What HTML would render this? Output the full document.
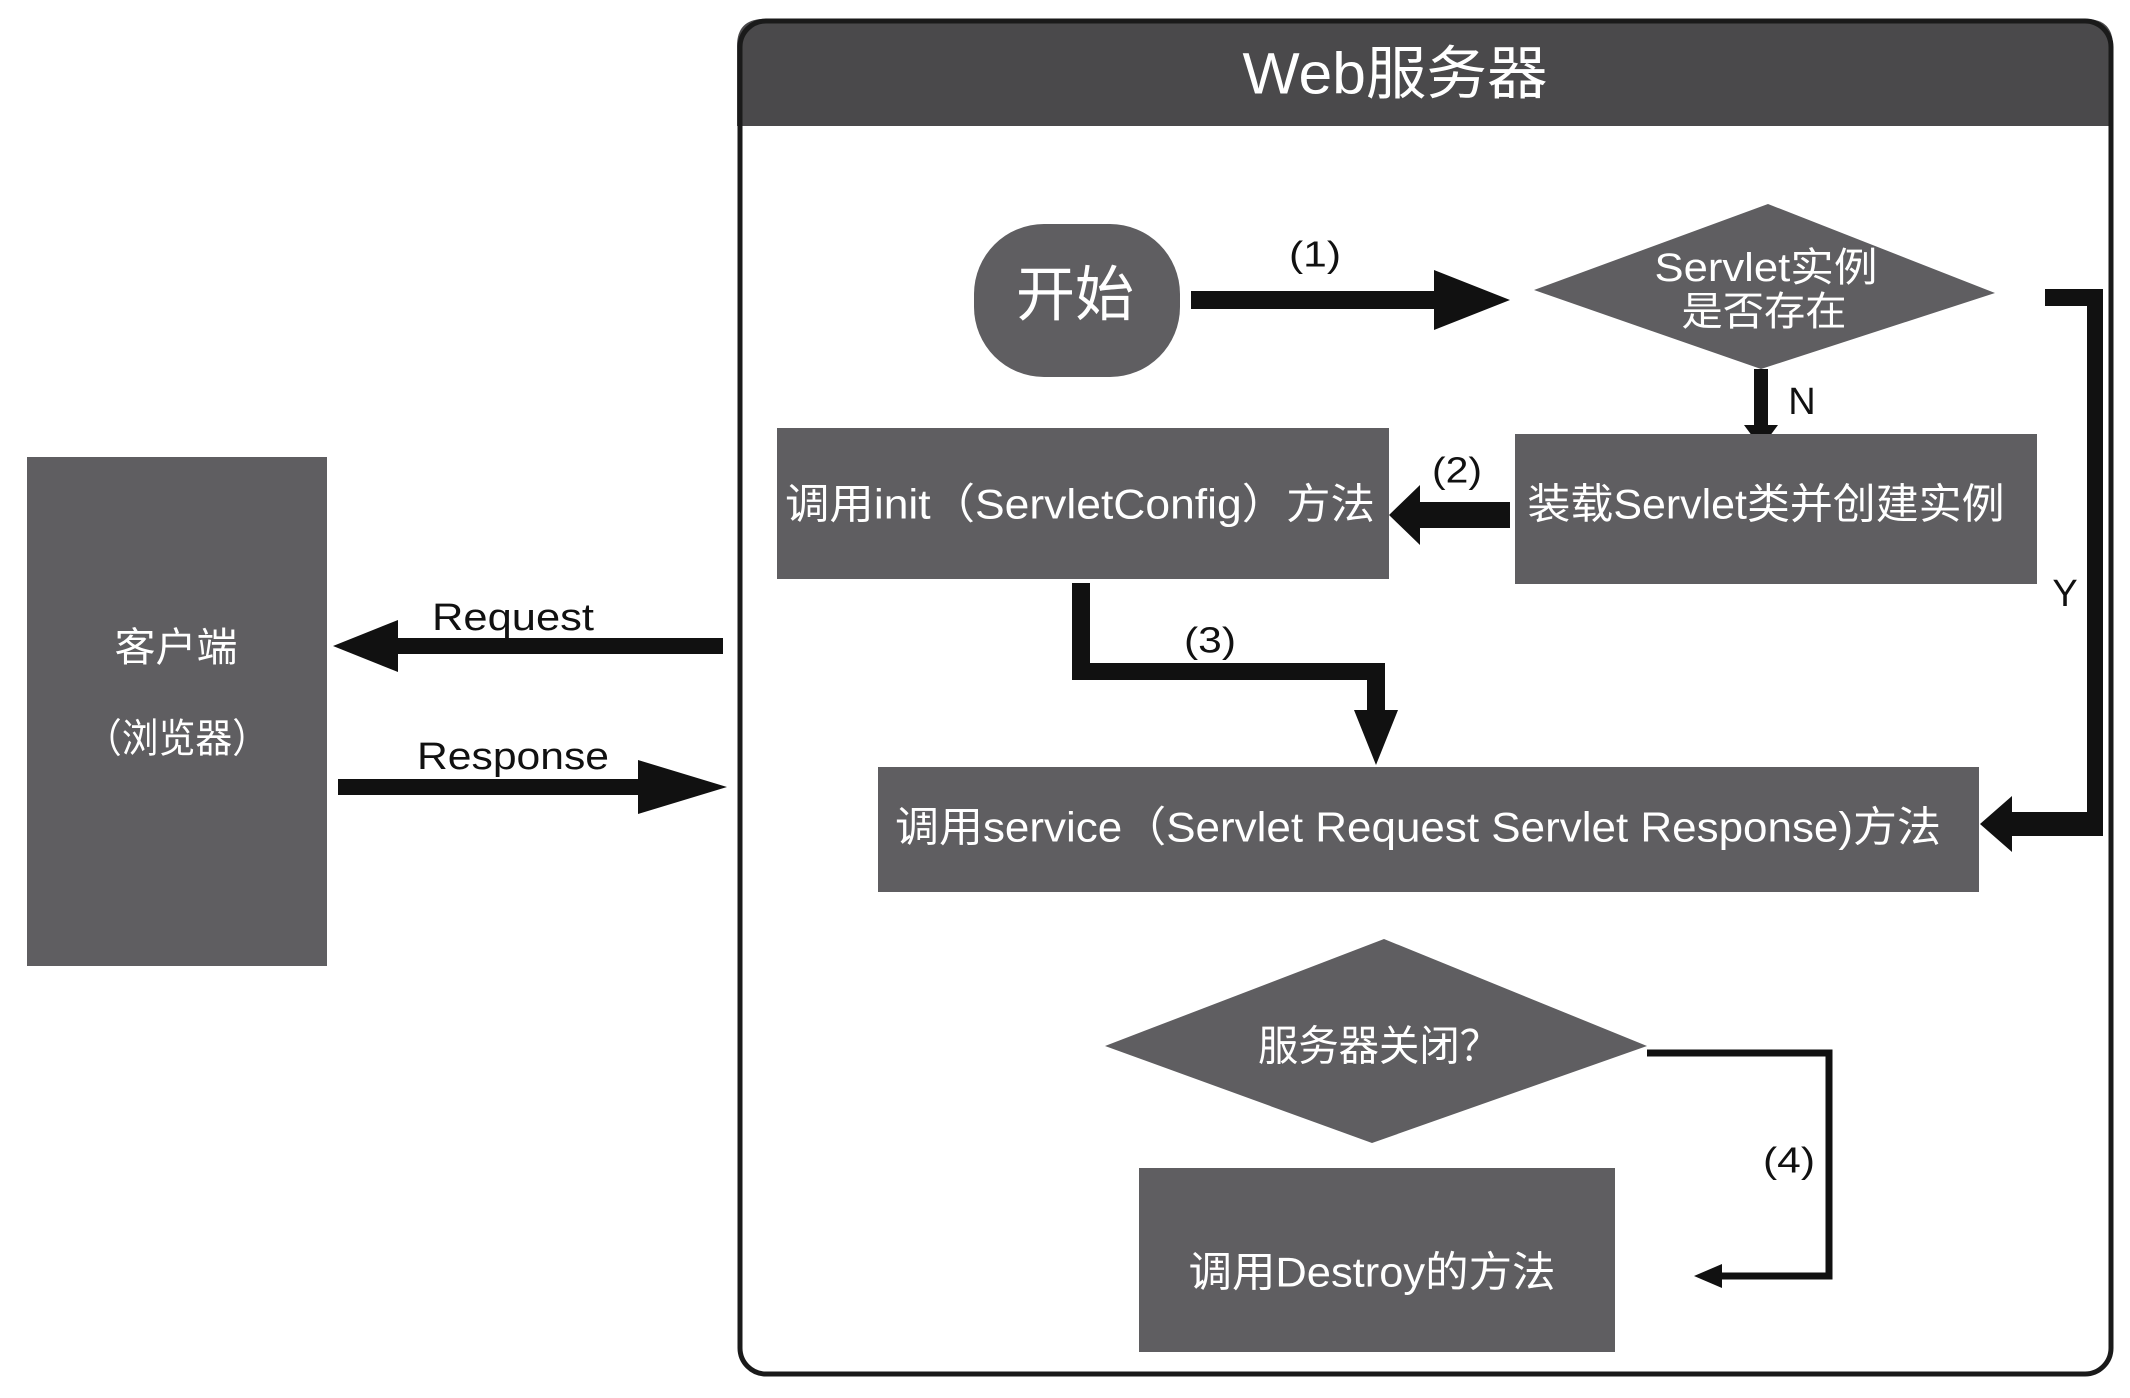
<!DOCTYPE html>
<html><head><meta charset="utf-8"><style>
html,body{margin:0;padding:0;background:#fff;}
svg{display:block}
text{font-family:"Liberation Sans","Noto Sans CJK SC",sans-serif;fill:#fff;dominant-baseline:central;text-anchor:middle;}
.d{fill:#111;}
</style></head><body>
<svg width="2130" height="1398" viewBox="0 0 2130 1398" xmlns="http://www.w3.org/2000/svg">
<!-- outer frame -->
<path d="M737,126 V46 Q737,19 764,19 H2086 Q2113,19 2113,46 V126 Z" fill="#4a494b"/>
<rect x="740" y="21" width="1371" height="1353" rx="26" fill="none" stroke="#1a1a1a" stroke-width="5"/>
<text x="1395" y="74" font-size="58" textLength="305" lengthAdjust="spacingAndGlyphs">Web服务器</text>

<!-- client -->
<rect x="27" y="457" width="300" height="509" fill="#5f5e61"/>
<text x="176" y="648" font-size="40" textLength="123" lengthAdjust="spacingAndGlyphs">客户端</text>
<text x="177" y="739" font-size="40" textLength="184" lengthAdjust="spacingAndGlyphs">（浏览器）</text>

<!-- request / response -->
<polygon class="d" points="723,638 398,638 398,620 333,646 398,672 398,654 723,654"/>
<text x="513" y="618" font-size="38" textLength="162" lengthAdjust="spacingAndGlyphs" style="fill:#111">Request</text>
<polygon class="d" points="338,779 638,779 638,760 727,787 638,814 638,795 338,795"/>
<text x="513" y="757" font-size="38" textLength="192" lengthAdjust="spacingAndGlyphs" style="fill:#111">Response</text>

<!-- start -->
<rect x="974" y="224" width="206" height="153" rx="70" fill="#5f5e61"/>
<text x="1075" y="295" font-size="60" textLength="118" lengthAdjust="spacingAndGlyphs">开始</text>

<!-- (1) -->
<polygon class="d" points="1191,291 1434,291 1434,270 1510,300 1434,330 1434,309 1191,309"/>
<text x="1315" y="254" font-size="36" style="fill:#111" textLength="52" lengthAdjust="spacingAndGlyphs">(1)</text>

<!-- diamond 1 -->
<polygon points="1768,204 1995,293 1761,369 1534,290" fill="#5f5e61"/>
<text x="1766" y="268" font-size="40" textLength="223" lengthAdjust="spacingAndGlyphs">Servlet实例</text>
<text x="1764" y="312" font-size="40" textLength="165" lengthAdjust="spacingAndGlyphs">是否存在</text>

<!-- N -->
<polygon class="d" points="1754,369 1768,369 1768,425 1778,425 1761,448 1744,425 1754,425"/>
<text x="1802" y="402" font-size="38" style="fill:#111">N</text>

<!-- load box -->
<rect x="1515" y="434" width="522" height="150" fill="#5f5e61"/>
<text x="1766" y="504" font-size="42" textLength="477" lengthAdjust="spacingAndGlyphs">装载Servlet类并创建实例</text>

<!-- (2) -->
<polygon class="d" points="1510,502 1420,502 1420,485 1389,515 1420,545 1420,528 1510,528"/>
<text x="1457" y="470" font-size="36" style="fill:#111" textLength="50" lengthAdjust="spacingAndGlyphs">(2)</text>

<!-- init box -->
<rect x="777" y="428" width="612" height="151" fill="#5f5e61"/>
<text x="1080" y="504" font-size="42" textLength="590" lengthAdjust="spacingAndGlyphs">调用init（ServletConfig）方法</text>

<!-- Y connector -->
<polygon class="d" points="2045,289 2103,289 2103,836 2012,836 2012,852 1980,824 2012,796 2012,812 2087,812 2087,306 2045,306"/>
<text x="2065" y="594" font-size="38" style="fill:#111">Y</text>

<!-- (3) -->
<polygon class="d" points="1072,583 1090,583 1090,663 1385,663 1385,710 1398,710 1376,765 1354,710 1367,710 1367,680 1072,680"/>
<text x="1210" y="640" font-size="36" style="fill:#111" textLength="52" lengthAdjust="spacingAndGlyphs">(3)</text>

<!-- service box -->
<rect x="878" y="767" width="1101" height="125" fill="#5f5e61"/>
<text x="1418" y="827" font-size="42" textLength="1046" lengthAdjust="spacingAndGlyphs">调用service（Servlet Request Servlet Response)方法</text>

<!-- diamond 2 -->
<polygon points="1384,939 1647,1046 1372,1143 1105,1046" fill="#5f5e61"/>
<text x="1379" y="1046" font-size="42" textLength="242" lengthAdjust="spacingAndGlyphs">服务器关闭？</text>

<!-- (4) -->
<polyline points="1647,1053 1829,1053 1829,1276 1712,1276" fill="none" stroke="#111" stroke-width="7"/>
<polygon class="d" points="1694,1276 1722,1264 1722,1288"/>
<text x="1789" y="1160" font-size="36" style="fill:#111" textLength="52" lengthAdjust="spacingAndGlyphs">(4)</text>

<!-- destroy -->
<rect x="1139" y="1168" width="476" height="184" fill="#5f5e61"/>
<text x="1372" y="1272" font-size="42" textLength="367" lengthAdjust="spacingAndGlyphs">调用Destroy的方法</text>
</svg>
</body></html>
